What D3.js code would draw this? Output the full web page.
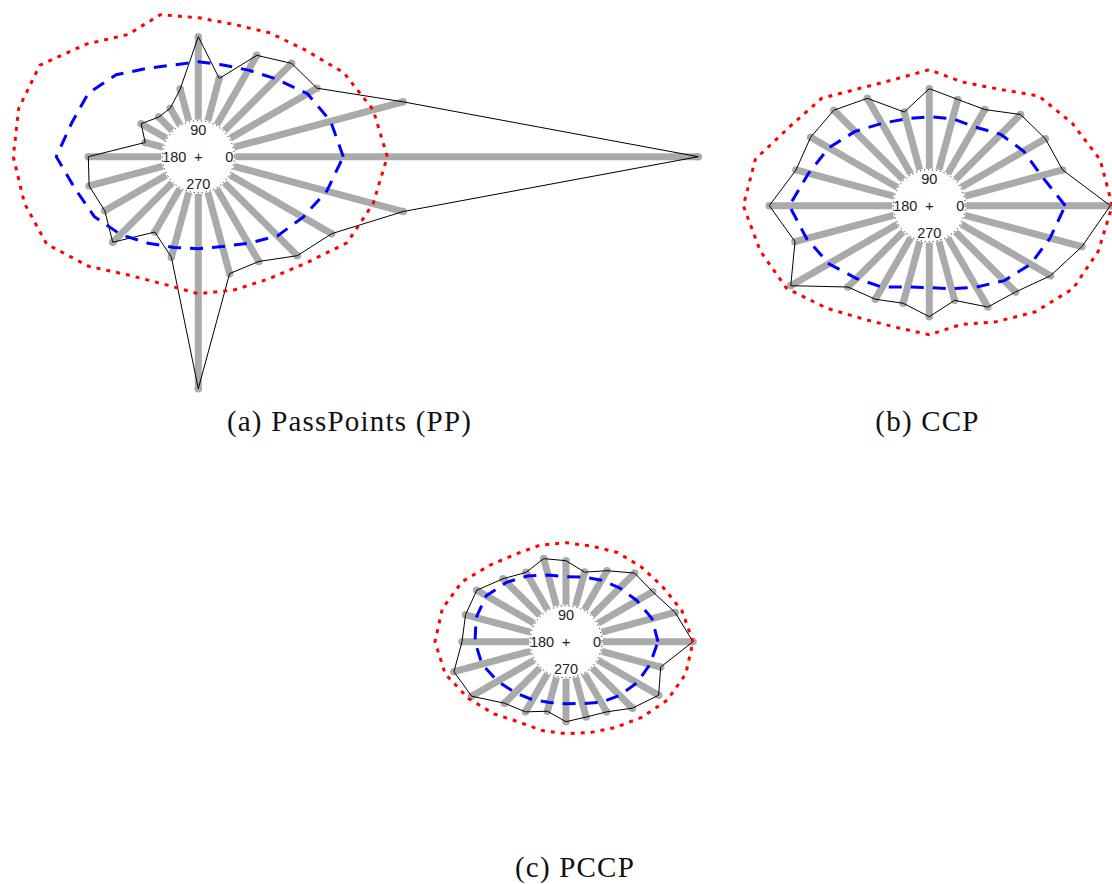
<!DOCTYPE html>
<html>
<head>
<meta charset="utf-8">
<script src="https://cdn.jsdelivr.net/npm/d3@7"></script>
<style>
  html, body { margin: 0; padding: 0; background: #fff; }
  svg { display: block; }
</style>
</head>
<body>
<svg id="fig" width="1112" height="884"></svg>
<script>
// Direction bins (degrees, counter-clockwise from east)
const directions = d3.range(0, 360, 15);
const axisLabels = ["0", "90", "180", "270"];

// PassPoints: per-direction extent, mean outline and upper outline
const ppValues = [500, 212, 137, 132, 117, 81, 120, 70, 56, 56, 66, 55,
                  110, 113, 108, 121, 87, 104, 232, 121, 121, 140, 154, 212];
const ppMean   = [145, 137, 126, 110, 100, 95, 95, 95, 102, 116, 127, 131,
                  142, 127, 120, 110, 100, 94, 92, 93, 100, 112, 121, 133];
const ppUpper  = [189, 181, 168, 151, 143, 137, 139, 147, 141, 159, 183, 186,
                  185, 180, 175, 155, 137, 132, 137, 138, 141, 151, 172, 181];

// CCP
const ccpValues = [181, 138, 134, 129, 111, 110, 117, 97, 124, 135, 137, 138,
                   160, 139, 160, 115, 108, 101, 111, 98, 117, 122, 140, 158];
const ccpMean   = [136, 116, 109, 101, 91, 90, 89, 90, 95, 105, 116, 125,
                   140, 127, 116, 103, 94, 84, 82, 86, 94, 106, 117, 125];
const ccpUpper  = [183, 177, 165, 155, 135, 128, 136, 131, 136, 152, 160, 180,
                   186, 175, 165, 145, 131, 126, 129, 123, 134, 150, 166, 175];

// PCCP
const pccpValues = [127, 113, 100, 97, 82, 72, 81, 86, 80, 89, 103, 104,
                    104, 116, 109, 87, 81, 72, 80, 78, 81, 94, 107, 98];
const pccpMean   = [92, 89, 82, 76, 71, 67, 65, 69, 76, 84, 92, 93,
                    91, 87, 79, 72, 67, 63, 62, 64, 70, 76, 82, 87];
const pccpUpper  = [127, 120, 111, 106, 103, 99, 99, 100, 101, 108, 120, 128,
                    131, 125, 113, 102, 93, 92, 92, 94, 99, 107, 117, 124];

const HUB = 37;          // radius of the empty centre
const svg = d3.select("#fig");

// radial scale in pixels from the centre of each rose
const rScale = d3.scaleLinear().domain([0, 500]).range([0, 500]);
// compass degrees -> d3 radial angle (clockwise from north)
const aScale = d3.scaleLinear().domain([0, 360]).range([Math.PI / 2, Math.PI / 2 - 2 * Math.PI]);

const panels = [
  { title: "(a) PassPoints (PP)", values: ppValues, mean: ppMean, upper: ppUpper,
    cx: 198.3, cy: 156.7, tx: 349.5, ty: 431 },
  { title: "(b) CCP", values: ccpValues, mean: ccpMean, upper: ccpUpper,
    cx: 929.3, cy: 205.7, tx: 927.5, ty: 431 },
  { title: "(c) PCCP", values: pccpValues, mean: pccpMean, upper: pccpUpper,
    cx: 566, cy: 641.7, tx: 575, ty: 877 }
];

const px = (deg, r) => r * Math.sin(aScale(deg));
const py = (deg, r) => -r * Math.cos(aScale(deg));

function outline(series) {
  return d3.lineRadial()
    .angle((d, i) => aScale(directions[i]))
    .radius(d => rScale(d))
    .curve(d3.curveLinearClosed)(series);
}

panels.forEach(p => {
  const g = svg.append("g").attr("transform", `translate(${p.cx},${p.cy})`);

  // dotted hub ring
  g.append("circle")
    .attr("r", HUB - 1)
    .attr("fill", "none")
    .attr("stroke", "#000")
    .attr("stroke-width", 1)
    .attr("stroke-dasharray", "1 3");

  // direction bars
  g.selectAll("line.bar")
    .data(p.values)
    .join("line")
    .attr("class", "bar")
    .attr("x1", (d, i) => px(directions[i], HUB))
    .attr("y1", (d, i) => py(directions[i], HUB))
    .attr("x2", (d, i) => px(directions[i], rScale(d)))
    .attr("y2", (d, i) => py(directions[i], rScale(d)))
    .attr("stroke", "#aaaaaa")
    .attr("stroke-width", 7);

  g.selectAll("circle.tip")
    .data(p.values)
    .join("circle")
    .attr("class", "tip")
    .attr("cx", (d, i) => px(directions[i], rScale(d)))
    .attr("cy", (d, i) => py(directions[i], rScale(d)))
    .attr("r", 3.8)
    .attr("fill", "#aaaaaa");

  // envelope through the bar ends
  g.append("path")
    .attr("d", outline(p.values))
    .attr("fill", "none")
    .attr("stroke", "#000")
    .attr("stroke-width", 1);

  // mean outline
  g.append("path")
    .attr("d", outline(p.mean))
    .attr("fill", "none")
    .attr("stroke", "#0000ff")
    .attr("stroke-width", 3)
    .attr("stroke-dasharray", "13 9");

  // upper outline
  g.append("path")
    .attr("d", outline(p.upper))
    .attr("fill", "none")
    .attr("stroke", "#ff0000")
    .attr("stroke-width", 3)
    .attr("stroke-dasharray", "4 6");

  // compass labels
  const labelPos = { "0": [31, 0], "90": [0, -27], "180": [-24, 0], "270": [0, 27] };
  axisLabels.forEach(t => {
    g.append("text")
      .attr("x", labelPos[t][0])
      .attr("y", labelPos[t][1])
      .attr("text-anchor", "middle")
      .attr("dominant-baseline", "central")
      .attr("font-family", "Liberation Sans, Arial, sans-serif")
      .attr("font-size", 14.5)
      .attr("fill", "#222")
      .text(t);
  });
  g.append("text")
    .attr("x", 0).attr("y", 0)
    .attr("text-anchor", "middle")
    .attr("dominant-baseline", "central")
    .attr("font-family", "Liberation Sans, Arial, sans-serif")
    .attr("font-size", 15)
    .attr("fill", "#222")
    .text("+");

  // caption
  svg.append("text")
    .attr("x", p.tx)
    .attr("y", p.ty)
    .attr("text-anchor", "middle")
    .attr("font-family", "Liberation Serif, Times New Roman, serif")
    .attr("font-size", 29)
    .attr("letter-spacing", 1.2)
    .attr("fill", "#111")
    .text(p.title);
});
</script>
</body>
</html>
